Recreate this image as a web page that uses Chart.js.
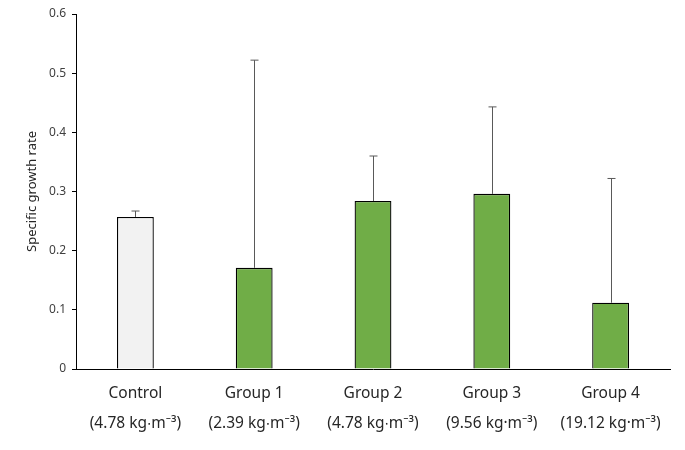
<!DOCTYPE html>
<html>
<head>
<meta charset="utf-8">
<script src="https://cdn.jsdelivr.net/npm/chart.js@4/dist/chart.umd.min.js"></script>
<style>
  html, body { margin: 0; padding: 0; background: #fff; }
  #wrap { width: 685px; height: 450px; }
</style>
</head>
<body>
<div id="wrap"><canvas id="chart"></canvas></div>
<script>
const categories = ['Control', 'Group 1', 'Group 2', 'Group 3', 'Group 4'];
const concentrations = ['(4.78 kg\u2219m\u207B\u00B3)', '(2.39 kg\u2219m\u207B\u00B3)', '(4.78 kg\u2219m\u207B\u00B3)', '(9.56 kg\u00B7m\u207B\u00B3)', '(19.12 kg\u00B7m\u207B\u00B3)'];
const growthRate = [0.257, 0.171, 0.284, 0.296, 0.112];
const growthSd = [0.010, 0.351, 0.076, 0.147, 0.210];
const yTicks = [0, 0.1, 0.2, 0.3, 0.4, 0.5, 0.6];

const FONT = '"Noto Sans", "Open Sans", sans-serif';

// upper error bars, drawn from the bar top through the y scale
const errorBars = {
    id: 'errorBars',
    afterDatasetsDraw(chart) {
        const ctx = chart.ctx;
        const y = chart.scales.y;
        const meta = chart.getDatasetMeta(0);
        ctx.save();
        ctx.strokeStyle = '#595959';
        ctx.lineWidth = 1;
        meta.data.forEach((bar, i) => {
            const top = y.getPixelForValue(growthRate[i] + growthSd[i]);
            const x = Math.round(bar.x) + 0.5;
            ctx.beginPath();
            ctx.moveTo(x, bar.y);
            ctx.lineTo(x, top);
            ctx.moveTo(x - 4, top);
            ctx.lineTo(x + 4, top);
            ctx.stroke();
        });
        ctx.restore();
    }
};

new Chart(document.getElementById('chart'), {
    type: 'bar',
    data: {
        labels: categories.map((c, i) => [c, concentrations[i]]),
        datasets: [{
            data: growthRate,
            backgroundColor: categories.map((c, i) => i === 0 ? '#F2F2F2' : '#70AD47'),
            borderColor: '#000',
            borderWidth: 1.3,
            barPercentage: 0.62,
            categoryPercentage: 0.5
        }]
    },
    options: {
        responsive: true,
        maintainAspectRatio: false,
        animation: false,
        layout: { padding: { top: 14, right: 15, left: 0, bottom: 0 } },
        plugins: { legend: { display: false }, tooltip: { enabled: false } },
        scales: {
            x: {
                grid: { display: true, drawOnChartArea: false, drawTicks: false },
                border: { color: '#000', width: 1 },
                ticks: {
                    padding: 10,
                    color: '#262626',
                    font: { family: FONT, size: 15.5, lineHeight: 1.9 },
                    maxRotation: 0
                },
                afterFit: s => { s.height = 81; }
            },
            y: {
                min: 0,
                max: 0.6,
                afterBuildTicks: s => { s.ticks = yTicks.map(v => ({ value: v })); },
                grid: { display: true, drawOnChartArea: false, tickLength: 4, tickColor: '#000' },
                border: { color: '#000', width: 1 },
                ticks: {
                    padding: 6,
                    color: '#404040',
                    font: { family: FONT, size: 12 },
                    callback: v => String(v)
                },
                title: {
                    display: true,
                    text: 'Specific growth rate',
                    color: '#262626',
                    font: { family: FONT, size: 13 },
                    padding: { top: 24, bottom: 0 }
                },
                afterFit: s => { s.width = 76; }
            }
        }
    },
    plugins: [errorBars]
});
</script>
</body>
</html>
